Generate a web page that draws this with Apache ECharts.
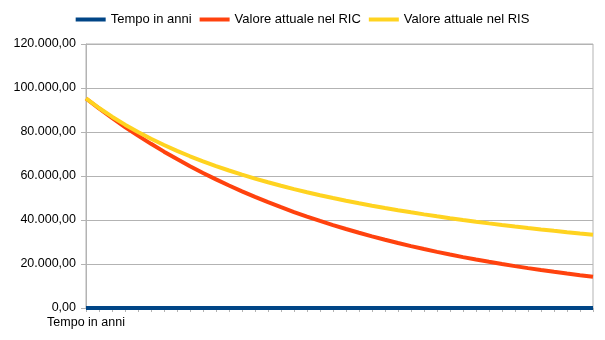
<!DOCTYPE html>
<html>
<head>
<meta charset="utf-8">
<script src="https://cdn.jsdelivr.net/npm/echarts@6/dist/echarts.min.js"></script>
<style>
  html, body { margin: 0; padding: 0; background: #fff; }
  #chart { width: 605px; height: 340px; }
</style>
</head>
<body>
<div id="chart"></div>
<script>
// Category labels along the time axis (only the first one carries text)
const categories = [
  "Tempo in anni", "", "", "", "", "", "", "", "", "",
  "", "", "", "", "", "", "", "", "", "",
  "", "", "", "", "", "", "", "", "", "",
  "", "", "", "", "", "", "", "", "", ""
];

// Years, 1 to 40
const tempoInAnni = [
  1, 2, 3, 4, 5, 6, 7, 8, 9, 10,
  11, 12, 13, 14, 15, 16, 17, 18, 19, 20,
  21, 22, 23, 24, 25, 26, 27, 28, 29, 30,
  31, 32, 33, 34, 35, 36, 37, 38, 39, 40
];

// Present value, compound discounting (RIC)
const valoreRIC = [
  95238, 90703, 86384, 82270, 78353, 74622, 71068, 67684, 64461, 61391,
  58468, 55684, 53032, 50507, 48102, 45811, 43630, 41552, 39573, 37689,
  35894, 34185, 32557, 31007, 29530, 28124, 26785, 25509, 24295, 23138,
  22036, 20987, 19987, 19035, 18129, 17266, 16444, 15661, 14915, 14205
];

// Present value, simple discounting (RIS)
const valoreRIS = [
  95238, 90909, 86957, 83333, 80000, 76923, 74074, 71429, 68966, 66667,
  64516, 62500, 60606, 58824, 57143, 55556, 54054, 52632, 51282, 50000,
  48780, 47619, 46512, 45455, 44444, 43478, 42553, 41667, 40816, 40000,
  39216, 38462, 37736, 37037, 36364, 35714, 35088, 34483, 33898, 33333
];

// Y axis range and step
const yMin = 0;
const yMax = 120000;
const yStep = 20000;

function fmtIt(v) {
  const neg = v < 0;
  const s = Math.abs(Math.round(v)).toString().replace(/\B(?=(\d{3})+(?!\d))/g, ".");
  return (neg ? "-" : "") + s + ",00";
}

const chart = echarts.init(document.getElementById("chart"), null, { renderer: "canvas" });

const font = "'Liberation Sans', Arial, sans-serif";

chart.setOption({
  animation: false,
  backgroundColor: "#ffffff",
  textStyle: { fontFamily: font },
  legend: {
    top: 8,
    left: "center",
    itemWidth: 30,
    itemHeight: 4,
    itemGap: 8,
    icon: "rect",
    textStyle: { fontFamily: font, fontSize: 13, color: "#000" },
    data: ["Tempo in anni", "Valore attuale nel RIC", "Valore attuale nel RIS"]
  },
  grid: {
    left: 86,
    right: 12,
    top: 44,
    bottom: 32,
    show: true,
    borderColor: "#b3b3b3",
    borderWidth: 1,
    containLabel: false
  },
  xAxis: {
    type: "category",
    data: categories,
    boundaryGap: false,
    axisLine: { show: true, lineStyle: { color: "#b3b3b3", width: 1 } },
    axisTick: { show: true, interval: 0, length: 4, lineStyle: { color: "#b3b3b3" } },
    axisLabel: {
      interval: 0,
      margin: 8,
      fontFamily: font,
      fontSize: 12.5,
      color: "#000"
    },
    splitLine: { show: false }
  },
  yAxis: {
    type: "value",
    min: yMin,
    max: yMax,
    interval: yStep,
    axisLine: { show: true, lineStyle: { color: "#b3b3b3", width: 1 } },
    axisTick: { show: true, length: 5, lineStyle: { color: "#b3b3b3" } },
    axisLabel: {
      formatter: fmtIt,
      margin: 10,
      fontFamily: font,
      fontSize: 12.5,
      color: "#000"
    },
    splitLine: { show: true, lineStyle: { color: "#b3b3b3", width: 1 } }
  },
  series: [
    {
      name: "Tempo in anni",
      type: "line",
      data: tempoInAnni,
      showSymbol: false,
      symbol: "none",
      lineStyle: { width: 4, color: "#004586" },
      itemStyle: { color: "#004586" }
    },
    {
      name: "Valore attuale nel RIC",
      type: "line",
      data: valoreRIC,
      showSymbol: false,
      symbol: "none",
      lineStyle: { width: 4, color: "#ff420e" },
      itemStyle: { color: "#ff420e" }
    },
    {
      name: "Valore attuale nel RIS",
      type: "line",
      data: valoreRIS,
      showSymbol: false,
      symbol: "none",
      lineStyle: { width: 4, color: "#ffd320" },
      itemStyle: { color: "#ffd320" }
    }
  ]
});
</script>
</body>
</html>
